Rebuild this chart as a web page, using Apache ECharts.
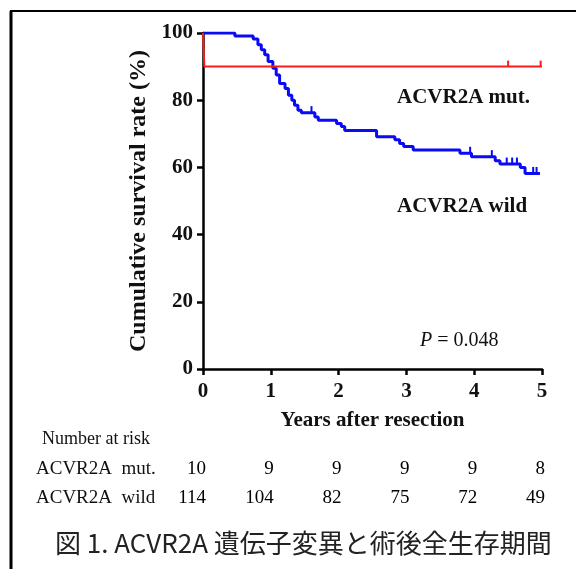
<!DOCTYPE html>
<html lang="ja">
<head>
    <meta charset="UTF-8">
    <title>ACVR2A survival</title>
    <script src="https://cdn.jsdelivr.net/npm/echarts@6/dist/echarts.min.js"></script>
    <style>
        html, body { margin: 0; padding: 0; background: #fff; }
    </style>
</head>
<body>
    <div id="main" style="width: 576px;height:569px;"></div>
    <script>
// survival curves: [years, survival %]
var mutCurve = [[0, 100], [0.02, 90], [5, 90]];
var mutCensor = [[4.5, 90], [4.98, 90]];
var wildCurve = [
    [0, 100], [0.47, 99.1], [0.74, 98.2], [0.81, 96.5], [0.86, 95.0], [0.91, 93.5],
    [0.96, 91.5], [1.03, 89.5], [1.08, 87.5], [1.13, 85.0], [1.21, 83.5], [1.26, 81.5],
    [1.31, 80.0], [1.35, 78.5], [1.40, 77.0], [1.45, 76.3], [1.65, 75.0], [1.70, 74.0],
    [1.97, 73.1], [2.04, 72.2], [2.09, 71.0], [2.56, 69.1], [2.83, 68.2], [2.90, 67.1],
    [2.96, 66.2], [3.10, 65.2], [3.79, 64.2], [3.96, 63.2], [4.31, 62.0], [4.38, 61.0],
    [4.68, 60.0], [4.75, 58.2], [4.97, 58.2]
];
var wildCensor = [[1.6, 76.3], [3.94, 64.2], [4.26, 63.2], [4.48, 61.0], [4.56, 61.0],
    [4.63, 61.0], [4.87, 58.2], [4.92, 58.2]];

// number at risk
var riskYears = [0, 1, 2, 3, 4, 5];
var riskRows = ['ACVR2A  mut.', 'ACVR2A  wild'];
var riskMut = [10, 9, 9, 9, 9, 8];
var riskWild = [114, 104, 82, 75, 72, 49];

var serif = '"Liberation Serif", "Times New Roman", serif';

var riskData = [];
riskYears.forEach(function (y, i) {
    riskData.push({ value: [y, riskRows[0]], label: { formatter: String(riskMut[i]) } });
    riskData.push({ value: [y, riskRows[1]], label: { formatter: String(riskWild[i]) } });
});

var myChart = echarts.init(document.getElementById('main'));

var option = {
    backgroundColor: '#fff',
    animation: false,
    grid: [
        { left: 203, right: 34, top: 33, bottom: 200 },
        { left: 203, right: 34, top: 455, height: 58 }
    ],
    xAxis: [{
        gridIndex: 0,
        type: 'value',
        min: 0, max: 5, interval: 1,
        name: 'Years after resection',
        nameLocation: 'middle',
        nameGap: 41,
        nameTextStyle: { fontFamily: serif, fontWeight: 'bold', fontSize: 21, color: '#111' },
        axisLine: { lineStyle: { color: '#000', width: 2.5 } },
        axisTick: { length: 6, lineStyle: { color: '#000', width: 2.5 } },
        axisLabel: { margin: 12, fontFamily: serif, fontWeight: 'bold', fontSize: 21, color: '#111' },
        splitLine: { show: false }
    }, {
        gridIndex: 1,
        type: 'value',
        min: 0, max: 5, interval: 1,
        show: false
    }],
    yAxis: [{
        gridIndex: 0,
        type: 'value',
        min: 0, max: 100, interval: 20,
        name: 'Cumulative survival rate (%)',
        nameLocation: 'middle',
        nameGap: 52,
        nameTextStyle: { fontFamily: serif, fontWeight: 'bold', fontSize: 24, color: '#111' },
        axisLine: { show: true, lineStyle: { color: '#000', width: 2.5 } },
        axisTick: { show: true, length: 6, lineStyle: { color: '#000', width: 2.5 } },
        axisLabel: { margin: 10, fontFamily: serif, fontWeight: 'bold', fontSize: 21, color: '#111' },
        splitLine: { show: false }
    }, {
        gridIndex: 1,
        type: 'category',
        inverse: true,
        data: riskRows,
        axisLine: { show: false },
        axisTick: { show: false },
        axisLabel: { align: 'left', margin: 167, fontFamily: serif, fontSize: 19, color: '#111' }
    }],
    series: [{
        name: 'ACVR2A mut.',
        type: 'line',
        step: 'end',
        symbol: 'none',
        lineStyle: { color: '#ff1a1a', width: 2 },
        data: mutCurve,
        z: 3
    }, {
        type: 'scatter',
        symbol: 'rect',
        symbolSize: [2, 6],
        symbolOffset: [0, -3],
        itemStyle: { color: '#ff1a1a', opacity: 1 },
        data: mutCensor
    }, {
        name: 'ACVR2A wild',
        type: 'line',
        step: 'end',
        symbol: 'none',
        lineStyle: { color: '#0a0af5', width: 3 },
        data: wildCurve,
        z: 2
    }, {
        type: 'scatter',
        symbol: 'rect',
        symbolSize: [2, 7],
        symbolOffset: [0, -3],
        itemStyle: { color: '#0a0af5', opacity: 1 },
        data: wildCensor
    }, {
        type: 'scatter',
        xAxisIndex: 1,
        yAxisIndex: 1,
        symbolSize: 0,
        itemStyle: { color: '#000', opacity: 1 },
        label: {
            show: true,
            position: 'left',
            distance: -3,
            fontFamily: serif,
            fontSize: 19,
            color: '#000'
        },
        data: riskData
    }],
    graphic: [
        { type: 'line', shape: { x1: 11, y1: 11, x2: 11, y2: 569 }, style: { stroke: '#000', lineWidth: 3 } },
        { type: 'line', shape: { x1: 10, y1: 11, x2: 576, y2: 11 }, style: { stroke: '#000', lineWidth: 2 } },
        { type: 'text', left: 397, top: 87, style: { text: 'ACVR2A mut.', font: 'bold 21px ' + serif, fill: '#111' } },
        { type: 'text', left: 397, top: 196, style: { text: 'ACVR2A wild', font: 'bold 21px ' + serif, fill: '#111' } },
        { type: 'text', left: 420, top: 331, style: {
            text: '{i|P} = 0.048',
            rich: {
                i: { fontStyle: 'italic', fontFamily: serif, fontSize: 20, fill: '#111' }
            },
            font: '20px ' + serif, fill: '#111'
        } },
        { type: 'text', left: 42, top: 430, style: { text: 'Number at risk', font: '18px ' + serif, fill: '#111' } },
        { type: 'text', left: 55, top: 530, style: { text: '図 1. ACVR2A 遺伝子変異と術後全生存期間', font: '26px "Noto Sans CJK JP", sans-serif', fill: '#222' } }
    ]
};

myChart.setOption(option);
    </script>
</body>
</html>
